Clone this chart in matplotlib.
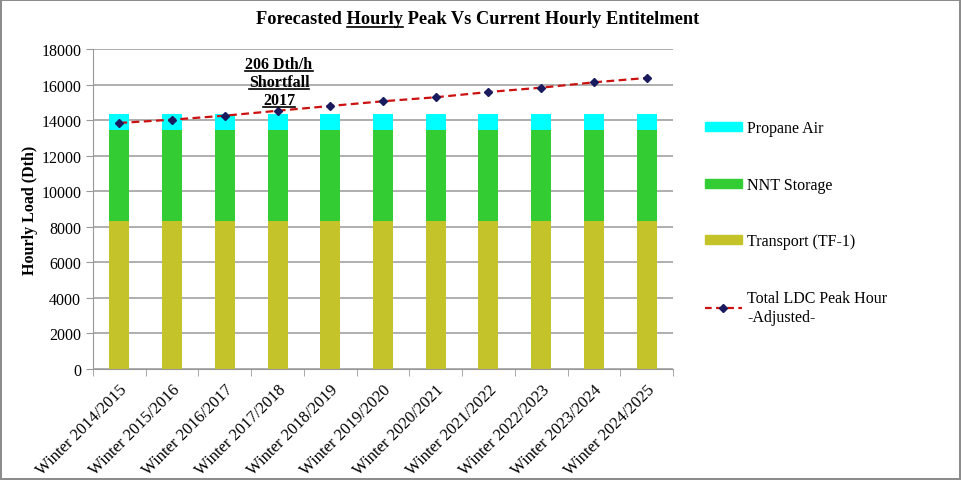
import numpy as np
import matplotlib.pyplot as plt
from matplotlib.patches import Patch
from matplotlib.lines import Line2D

plt.rcParams['font.family'] = ['Liberation Serif', 'DejaVu Serif']

winters = ["Winter 2014/2015", "Winter 2015/2016", "Winter 2016/2017", "Winter 2017/2018",
           "Winter 2018/2019", "Winter 2019/2020", "Winter 2020/2021", "Winter 2021/2022",
           "Winter 2022/2023", "Winter 2023/2024", "Winter 2024/2025"]
transport = [8320] * 11
nnt_storage = [5140] * 11
propane_air = [860] * 11
peak_hour = [13840, 14025, 14250, 14526, 14795, 15060, 15285, 15580, 15825, 16125, 16370]

fig = plt.figure(figsize=(9.61, 4.81), dpi=100)
fig.patch.set_edgecolor('#8c8c8c')
fig.patch.set_linewidth(1.5)
ax = fig.add_axes([93/961, 1 - 370/481, 580/961, 320/481])

x = np.arange(len(winters))
w = 0.38
c_tr, c_nnt, c_pa = '#c4c42a', '#33cc33', '#00ffff'
ax.bar(x, transport, w, color=c_tr, zorder=2)
ax.bar(x, nnt_storage, w, bottom=transport, color=c_nnt, zorder=2)
bot2 = np.array(transport) + np.array(nnt_storage)
ax.bar(x, propane_air, w, bottom=bot2, color=c_pa, zorder=2)
ax.plot(x, peak_hour, color='#cc1111', ls=(0, (3.5, 2)), lw=1.6, zorder=3)
ax.plot(x, peak_hour, ls='none', marker='D', ms=4, color='#1a1a5e', zorder=4)

ax.set_xlim(-0.5, len(winters) - 0.5)
ax.set_ylim(0, 18000)
ax.set_yticks(range(0, 18001, 2000))
ax.yaxis.grid(True, color='#999999', lw=1.1, zorder=0)
for s in ['top', 'right']:
    ax.spines[s].set_visible(False)
ax.spines['left'].set_color('#999999')
ax.spines['bottom'].set_color('#999999')
ax.tick_params(axis='y', colors='#999999', labelcolor='black', labelsize=11.5, length=5)
ax.set_xticks(x)
ax.set_xticklabels(winters, rotation=45, ha='right', rotation_mode='anchor', fontsize=12)
ax.set_xticks(np.arange(-0.5, len(winters)), minor=True)
ax.tick_params(axis='x', which='major', length=0, pad=9)
ax.tick_params(axis='x', which='minor', length=5, color='#999999')
ax.set_ylabel("Hourly Load (Dth)", fontsize=11.5, fontweight='bold', labelpad=2)

handles = [Patch(color=c_pa), Patch(color=c_nnt), Patch(color=c_tr),
           Line2D([], [], color='#cc1111', ls=(0, (3, 2)), lw=1.6, marker='D', ms=4,
                  mfc='#1a1a5e', mec='#1a1a5e')]
labels = ["Propane Air", "NNT Storage", "Transport (TF-1)", "Total LDC Peak Hour\n-Adjusted-"]
fig.legend(handles, labels, loc='upper left', bbox_to_anchor=(705/961, 1 - 121/481),
           frameon=False, fontsize=11.5, labelspacing=2.55, handlelength=2.3,
           handleheight=0.5, handletextpad=0.35, borderpad=0, borderaxespad=0)

title = fig.text(478/961, 1 - 20/481, "Forecasted Hourly Peak Vs Current Hourly Entitelment",
                 ha='center', va='center', fontsize=13.2, fontweight='bold')
notes = []
for yy, s in zip([65, 83, 101], ["206 Dth/h", "Shortfall", "2017"]):
    notes.append(fig.text(279/961, 1 - yy/481, s, ha='center', va='center',
                          fontsize=11.5, fontweight='bold'))

fig.canvas.draw()
r = fig.canvas.get_renderer()


def width_of(s, ref):
    t = fig.text(0, 0, s, fontsize=ref.get_fontsize(), fontweight=ref.get_fontweight())
    wd = t.get_window_extent(r).width
    t.remove()
    return wd


def underline(bx0, bx1, by):
    fig.add_artist(Line2D([bx0 / fig.bbox.width, bx1 / fig.bbox.width],
                          [by / fig.bbox.height] * 2, color='black', lw=1.2))


tb = title.get_window_extent(r)
w_pre = width_of("Forecasted Hourly", title)
w_h = width_of("Hourly", title)
underline(tb.x0 + w_pre - w_h, tb.x0 + w_pre, tb.y0 + 1)
for t in notes:
    b = t.get_window_extent(r)
    underline(b.x0, b.x1, b.y0 + 1)

fig.savefig("out.png", dpi=100)
